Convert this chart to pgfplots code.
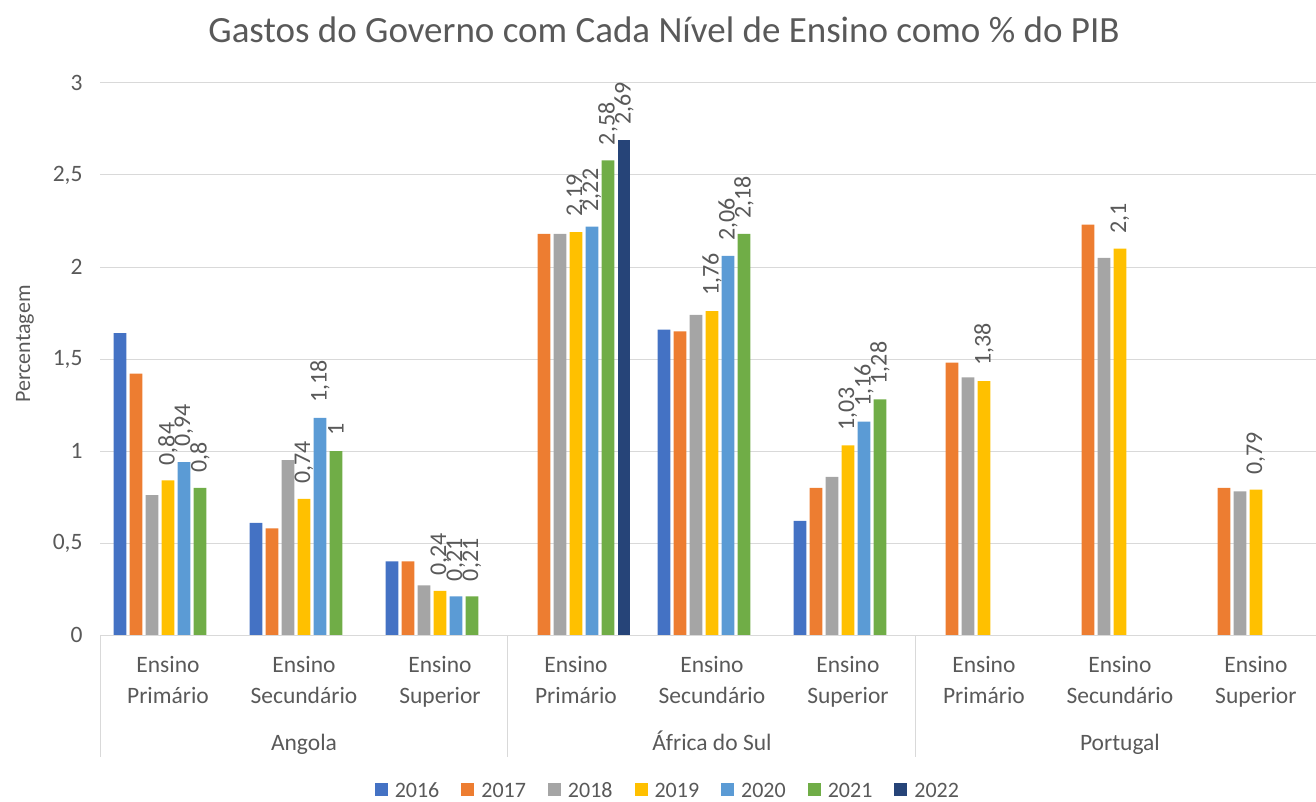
\documentclass[border=0pt]{standalone}
\usepackage{fontspec}
\setmainfont{Carlito}
\usepackage{pgfplots}
\pgfplotsset{compat=1.18}
\definecolor{c2016}{HTML}{4472C4}
\definecolor{c2017}{HTML}{ED7D31}
\definecolor{c2018}{HTML}{A5A5A5}
\definecolor{c2019}{HTML}{FFC000}
\definecolor{c2020}{HTML}{5B9BD5}
\definecolor{c2021}{HTML}{70AD47}
\definecolor{c2022}{HTML}{264478}
\definecolor{txt}{HTML}{595959}
\definecolor{gridc}{HTML}{D9D9D9}
\newcommand{\tf}{\fontsize{23.5}{31}\selectfont}
\newcommand{\lf}{\fontsize{22}{26}\selectfont}
\begin{document}
\begin{tikzpicture}
\useasboundingbox (0pt,0pt) rectangle (1316pt,801pt);
\node[font=\fontsize{37}{40}\selectfont, text=txt] at (664pt,771pt) {Gastos do Governo com Cada Nível de Ensino como \% do PIB};
\node[font=\lf, text=txt, rotate=90] at (25pt,457pt) {Percentagem};
\begin{axis}[
  at={(100pt,166pt)}, anchor=south west,
  scale only axis, width=1224pt, height=552pt,
  xmin=-0.5, xmax=8.5, ymin=0, ymax=3,
  ytick={0,0.5,1,1.5,2,2.5,3},
  xtick={0,...,8},
  xticklabels={{Ensino\\Primário},{Ensino\\Secundário},{Ensino\\Superior},{Ensino\\Primário},{Ensino\\Secundário},{Ensino\\Superior},{Ensino\\Primário},{Ensino\\Secundário},{Ensino\\Superior}},
  xticklabel style={align=center, font=\tf, text=txt, yshift=-18pt},
  yticklabel style={font=\tf, text=txt, xshift=-14pt},
  /pgf/number format/.cd, use comma, assume math mode=true, /pgfplots/.cd,
  ymajorgrids, grid style={gridc, line width=1pt},
  axis line style={draw=none},
  major tick length=0pt,
  ybar=3.3pt, bar width=12.7pt,
  clip=false,
  every node near coord/.append style={rotate=90, anchor=west, font=\fontsize{24}{28}\selectfont, text=txt, inner xsep=15pt},
  legend columns=7,
  legend style={at={(0.464,-0.28)}, anchor=center, draw=none, font=\lf, text=txt,
    /tikz/every even column/.append style={column sep=20pt}},
  legend image code/.code={\fill[#1] (0pt,-6.5pt) rectangle (13pt,6.5pt); \path (18pt,0pt);},
]
\addplot[fill=c2016, draw=none] coordinates {(0,1.64) (1,0.61) (2,0.40) (4,1.66) (5,0.62)};
\addplot[fill=c2017, draw=none] coordinates {(0,1.42) (1,0.58) (2,0.40) (3,2.18) (4,1.65) (5,0.80) (6,1.48) (7,2.23) (8,0.80)};
\addplot[fill=c2018, draw=none] coordinates {(0,0.76) (1,0.95) (2,0.27) (3,2.18) (4,1.74) (5,0.86) (6,1.40) (7,2.05) (8,0.78)};
\addplot[fill=c2019, draw=none, nodes near coords] coordinates {(0,0.84) (1,0.74) (2,0.24) (3,2.19) (4,1.76) (5,1.03) (6,1.38) (7,2.10) (8,0.79)};
\addplot[fill=c2020, draw=none, nodes near coords] coordinates {(0,0.94) (1,1.18) (2,0.21) (3,2.22) (4,2.06) (5,1.16)};
\addplot[fill=c2021, draw=none, nodes near coords] coordinates {(0,0.80) (1,1.00) (2,0.21) (3,2.58) (4,2.18) (5,1.28)};
\addplot[fill=c2022, draw=none, nodes near coords] coordinates {(3,2.69)};
\legend{\strut 2016,\strut 2017,\strut 2018,\strut 2019,\strut 2020,\strut 2021,\strut 2022}
\draw[gridc, line width=1pt] (axis cs:-0.5,0) -- (axis cs:8.5,0);
\draw[gridc, line width=1pt] (axis cs:-0.5,0) -- ++(0pt,-122pt);
\draw[gridc, line width=1pt] (axis cs:2.5,0) -- ++(0pt,-122pt);
\draw[gridc, line width=1pt] (axis cs:5.5,0) -- ++(0pt,-122pt);
\draw[gridc, line width=1pt] (axis cs:8.5,0) -- ++(0pt,-122pt);
\node[font=\tf, text=txt, anchor=base] at (axis cs:1,0) [yshift=-115pt] {Angola};
\node[font=\tf, text=txt, anchor=base] at (axis cs:4,0) [yshift=-115pt] {África do Sul};
\node[font=\tf, text=txt, anchor=base] at (axis cs:7,0) [yshift=-115pt] {Portugal};
\end{axis}
\end{tikzpicture}
\end{document}
